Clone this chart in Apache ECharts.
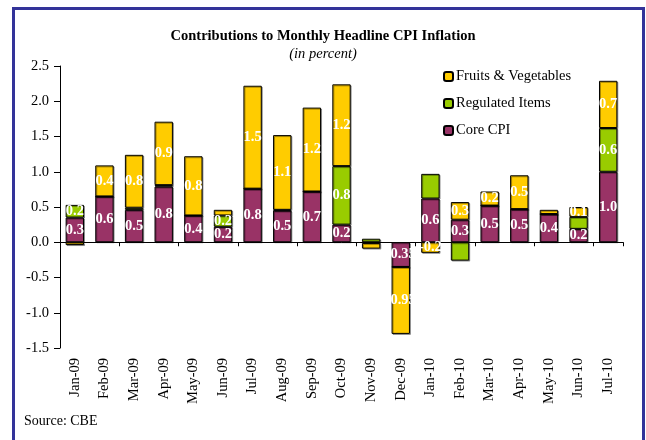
<!DOCTYPE html>
<html>
	<head>
		<meta charset="utf-8" />
		<title>CPI Contributions</title>
		<script src="https://cdn.jsdelivr.net/npm/echarts@6/dist/echarts.min.js"></script>
		<style>
			body { margin: 0; background: #fff; }
			#main { width: 646px; height: 440px; }
		</style>
	</head>
	<body>
		<div id="main"></div>
		<script type="text/javascript">
			// 月份
			var months = ['Jan-09', 'Feb-09', 'Mar-09', 'Apr-09', 'May-09', 'Jun-09', 'Jul-09', 'Aug-09', 'Sep-09',
				'Oct-09', 'Nov-09', 'Dec-09', 'Jan-10', 'Feb-10', 'Mar-10', 'Apr-10', 'May-10', 'Jun-10', 'Jul-10'];
			var coreCpi = [0.35, 0.65, 0.46, 0.79, 0.38, 0.22, 0.76, 0.45, 0.72, 0.25, -0.01, -0.35, 0.62, 0.32, 0.52, 0.47, 0.40, 0.19, 1.00];
			var regulated = [0.18, 0.0, 0.03, 0.02, 0.0, 0.16, 0.0, 0.01, 0.0, 0.83, 0.05, 0.0, 0.35, -0.26, 0.0, 0.0, 0.0, 0.17, 0.62];
			var fruitsVeg = [-0.04, 0.44, 0.75, 0.90, 0.84, 0.08, 1.46, 1.06, 1.19, 1.16, -0.08, -0.95, -0.15, 0.25, 0.20, 0.48, 0.06, 0.14, 0.67];
			// 柱内标签
			var coreLabels = ['0.3', '0.6', '0.5', '0.8', '0.4', '0.2', '0.8', '0.5', '0.7', '0.2', '', '-0.35', '0.6', '0.3', '0.5', '0.5', '0.4', '0.2', '1.0'];
			var regLabels = ['0.2', '', '', '', '', '0.2', '', '', '', '0.8', '', '', '', '', '', '', '', '', '0.6'];
			var fvLabels = ['', '0.4', '0.8', '0.9', '0.8', '', '1.5', '1.1', '1.2', '1.2', '', '-0.95', '-0.2', '0.3', '0.2', '0.5', '', '0.1', '0.7'];
			var yTicks = [-1.5, -1.0, -0.5, 0.0, 0.5, 1.0, 1.5, 2.0, 2.5];

			var serif = '"Liberation Serif", "Times New Roman", serif';
			var fs = 14.5;

			function barLabel(arr) {
				return {
					show: true,
					position: 'inside',
					color: '#fff',
					fontWeight: 'bold',
					fontFamily: serif,
					fontSize: fs,
					formatter: function (p) { return arr[p.dataIndex]; }
				};
			}
			function barStyle(c) {
				return {
					color: c,
					borderColor: '#000',
					borderWidth: 1,
					shadowColor: 'rgba(0,0,0,0.35)',
					shadowOffsetX: 1,
					shadowOffsetY: 1
				};
			}

			var myChart = echarts.init(document.getElementById('main'));
			var option = {
				animation: false,
				title: {
					text: 'Contributions to Monthly Headline CPI Inflation',
					subtext: '(in percent)',
					left: 'center',
					top: 24,
					itemGap: 3,
					textStyle: { fontFamily: serif, fontSize: fs, fontWeight: 'bold', color: '#000' },
					subtextStyle: { fontFamily: serif, fontSize: fs, fontStyle: 'italic', color: '#000' }
				},
				legend: {
					orient: 'vertical',
					left: 438,
					top: 64,
					itemWidth: 9,
					itemHeight: 9,
					itemGap: 12,
					data: ['Fruits & Vegetables', 'Regulated Items', 'Core CPI'],
					textStyle: { fontFamily: serif, fontSize: fs, lineHeight: 15, color: '#000', padding: [0, 0, 0, -2] }
				},
				grid: { left: 60, right: 23, top: 66, bottom: 92 },
				xAxis: [
					{
						type: 'category',
						data: months,
						axisLine: { onZero: true, lineStyle: { color: '#000' } },
						axisTick: { show: true, length: 4, lineStyle: { color: '#000' } },
						axisLabel: { show: false }
					},
					{
						type: 'category',
						data: months,
						position: 'bottom',
						axisLine: { show: false, onZero: false },
						axisTick: { show: false },
						axisLabel: { rotate: 90, margin: 10, fontFamily: serif, fontSize: fs, color: '#000' }
					}
				],
				yAxis: {
					type: 'value',
					min: yTicks[0],
					max: yTicks[yTicks.length - 1],
					interval: 0.5,
					axisLine: { show: true, lineStyle: { color: '#000' } },
					axisTick: { show: true, length: 6, lineStyle: { color: '#000' } },
					splitLine: { show: false },
					axisLabel: {
						fontFamily: serif, fontSize: fs, color: '#000', margin: 11,
						formatter: function (v) { return v.toFixed(1); }
					}
				},
				series: [
					{ name: 'Core CPI', type: 'bar', stack: 'cpi', barWidth: '62%', data: coreCpi, itemStyle: barStyle('#993366'), label: barLabel(coreLabels) },
					{ name: 'Regulated Items', type: 'bar', stack: 'cpi', data: regulated, itemStyle: barStyle('#99CC00'), label: barLabel(regLabels) },
					{ name: 'Fruits & Vegetables', type: 'bar', stack: 'cpi', data: fruitsVeg, itemStyle: barStyle('#FFCC00'), label: barLabel(fvLabels) }
				],
				graphic: [
					{
						type: 'rect',
						shape: { x: 13.5, y: 8.5, width: 630, height: 445 },
						style: { fill: 'none', stroke: '#333399', lineWidth: 3 }
					},
					{
						type: 'text',
						left: 24,
						top: 414,
						style: { text: 'Source: CBE', font: '14px ' + serif, fill: '#000' }
					}
				]
			};
			myChart.setOption(option);
		</script>
	</body>
</html>
